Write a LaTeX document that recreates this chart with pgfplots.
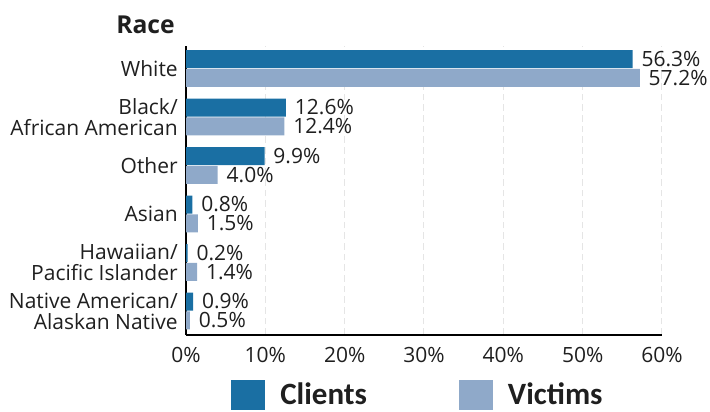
\documentclass[border=0pt]{standalone}
\usepackage{pgfplots}
\pgfplotsset{compat=1.18}
\usepackage{fontspec}
\setmainfont{Open Sans}
\newfontfamily\legfont{Carlito}
\definecolor{clients}{HTML}{1A6FA3}
\definecolor{victims}{HTML}{8FA9C9}
\begin{document}
\begin{tikzpicture}
\useasboundingbox (0,0) rectangle (532.5pt,308.25pt);
\node[anchor=base east, inner sep=0pt, font=\fontsize{18.5}{20}\selectfont\bfseries, text=black!88]
  at (131.25pt,282.75pt) {Race};
\begin{axis}[
 at={(139.5pt,57pt)}, anchor=south west,
 xbar, bar width=13.5pt,
 scale only axis, width=357pt, height=216.75pt,
 xmin=0, xmax=60, ymin=-0.495, ymax=5.464,
 xtick={0,10,...,60},
 /pgf/number format/assume math mode=true,
 xticklabel={\pgfmathprintnumber{\tick}\%},
 ytick={0,...,5},
 yticklabels={{Native American/\\Alaskan Native},{Hawaiian/\\Pacific Islander},Asian,Other,{Black/\\African American},White},
 axis x line*=bottom, axis y line*=left,
 axis line style={black, line width=1pt, -},
 major tick length=0pt,
 xmajorgrids, grid style={gray!20, line width=0.75pt, dash pattern=on 5pt off 3pt},
 tick label style={font=\fontsize{15.75}{15.75}\selectfont, text=black!88},
 yticklabel style={align=right, inner sep=0pt, xshift=-6pt},
 xticklabel style={inner sep=0pt, yshift=-9pt},
 nodes near coords={\pgfmathprintnumber[fixed,precision=1,fixed zerofill]{\pgfplotspointmeta}\%},
 nodes near coords style={anchor=west, inner sep=0pt, xshift=6.5pt, font=\fontsize{15.75}{15.75}\selectfont, text=black!88},
 legend columns=2,
 legend style={at={(45/476,-60/289)}, anchor=west, draw=none, fill=none, inner sep=0pt,
   font=\legfont\bfseries\fontsize{23.25}{24}\selectfont, text=black!88,
   nodes={inner sep=0pt, anchor=west},
   /tikz/every odd column/.append style={column sep=11.25pt},
   /tikz/every even column/.append style={column sep=69pt}},
 legend image code/.code={\fill[#1] (0pt,-11.6pt) rectangle (25.5pt,11.6pt);},
]
\addplot[fill=clients, draw=none, bar shift=7.1pt] coordinates {(0.9,0) (0.2,1) (0.8,2) (9.9,3) (12.6,4) (56.3,5)};
\addplot[fill=victims, draw=none, bar shift=-7.1pt] coordinates {(0.5,0) (1.4,1) (1.5,2) (4.0,3) (12.4,4) (57.2,5)};
\legend{Clients,Victims}
\end{axis}
\end{tikzpicture}
\end{document}
